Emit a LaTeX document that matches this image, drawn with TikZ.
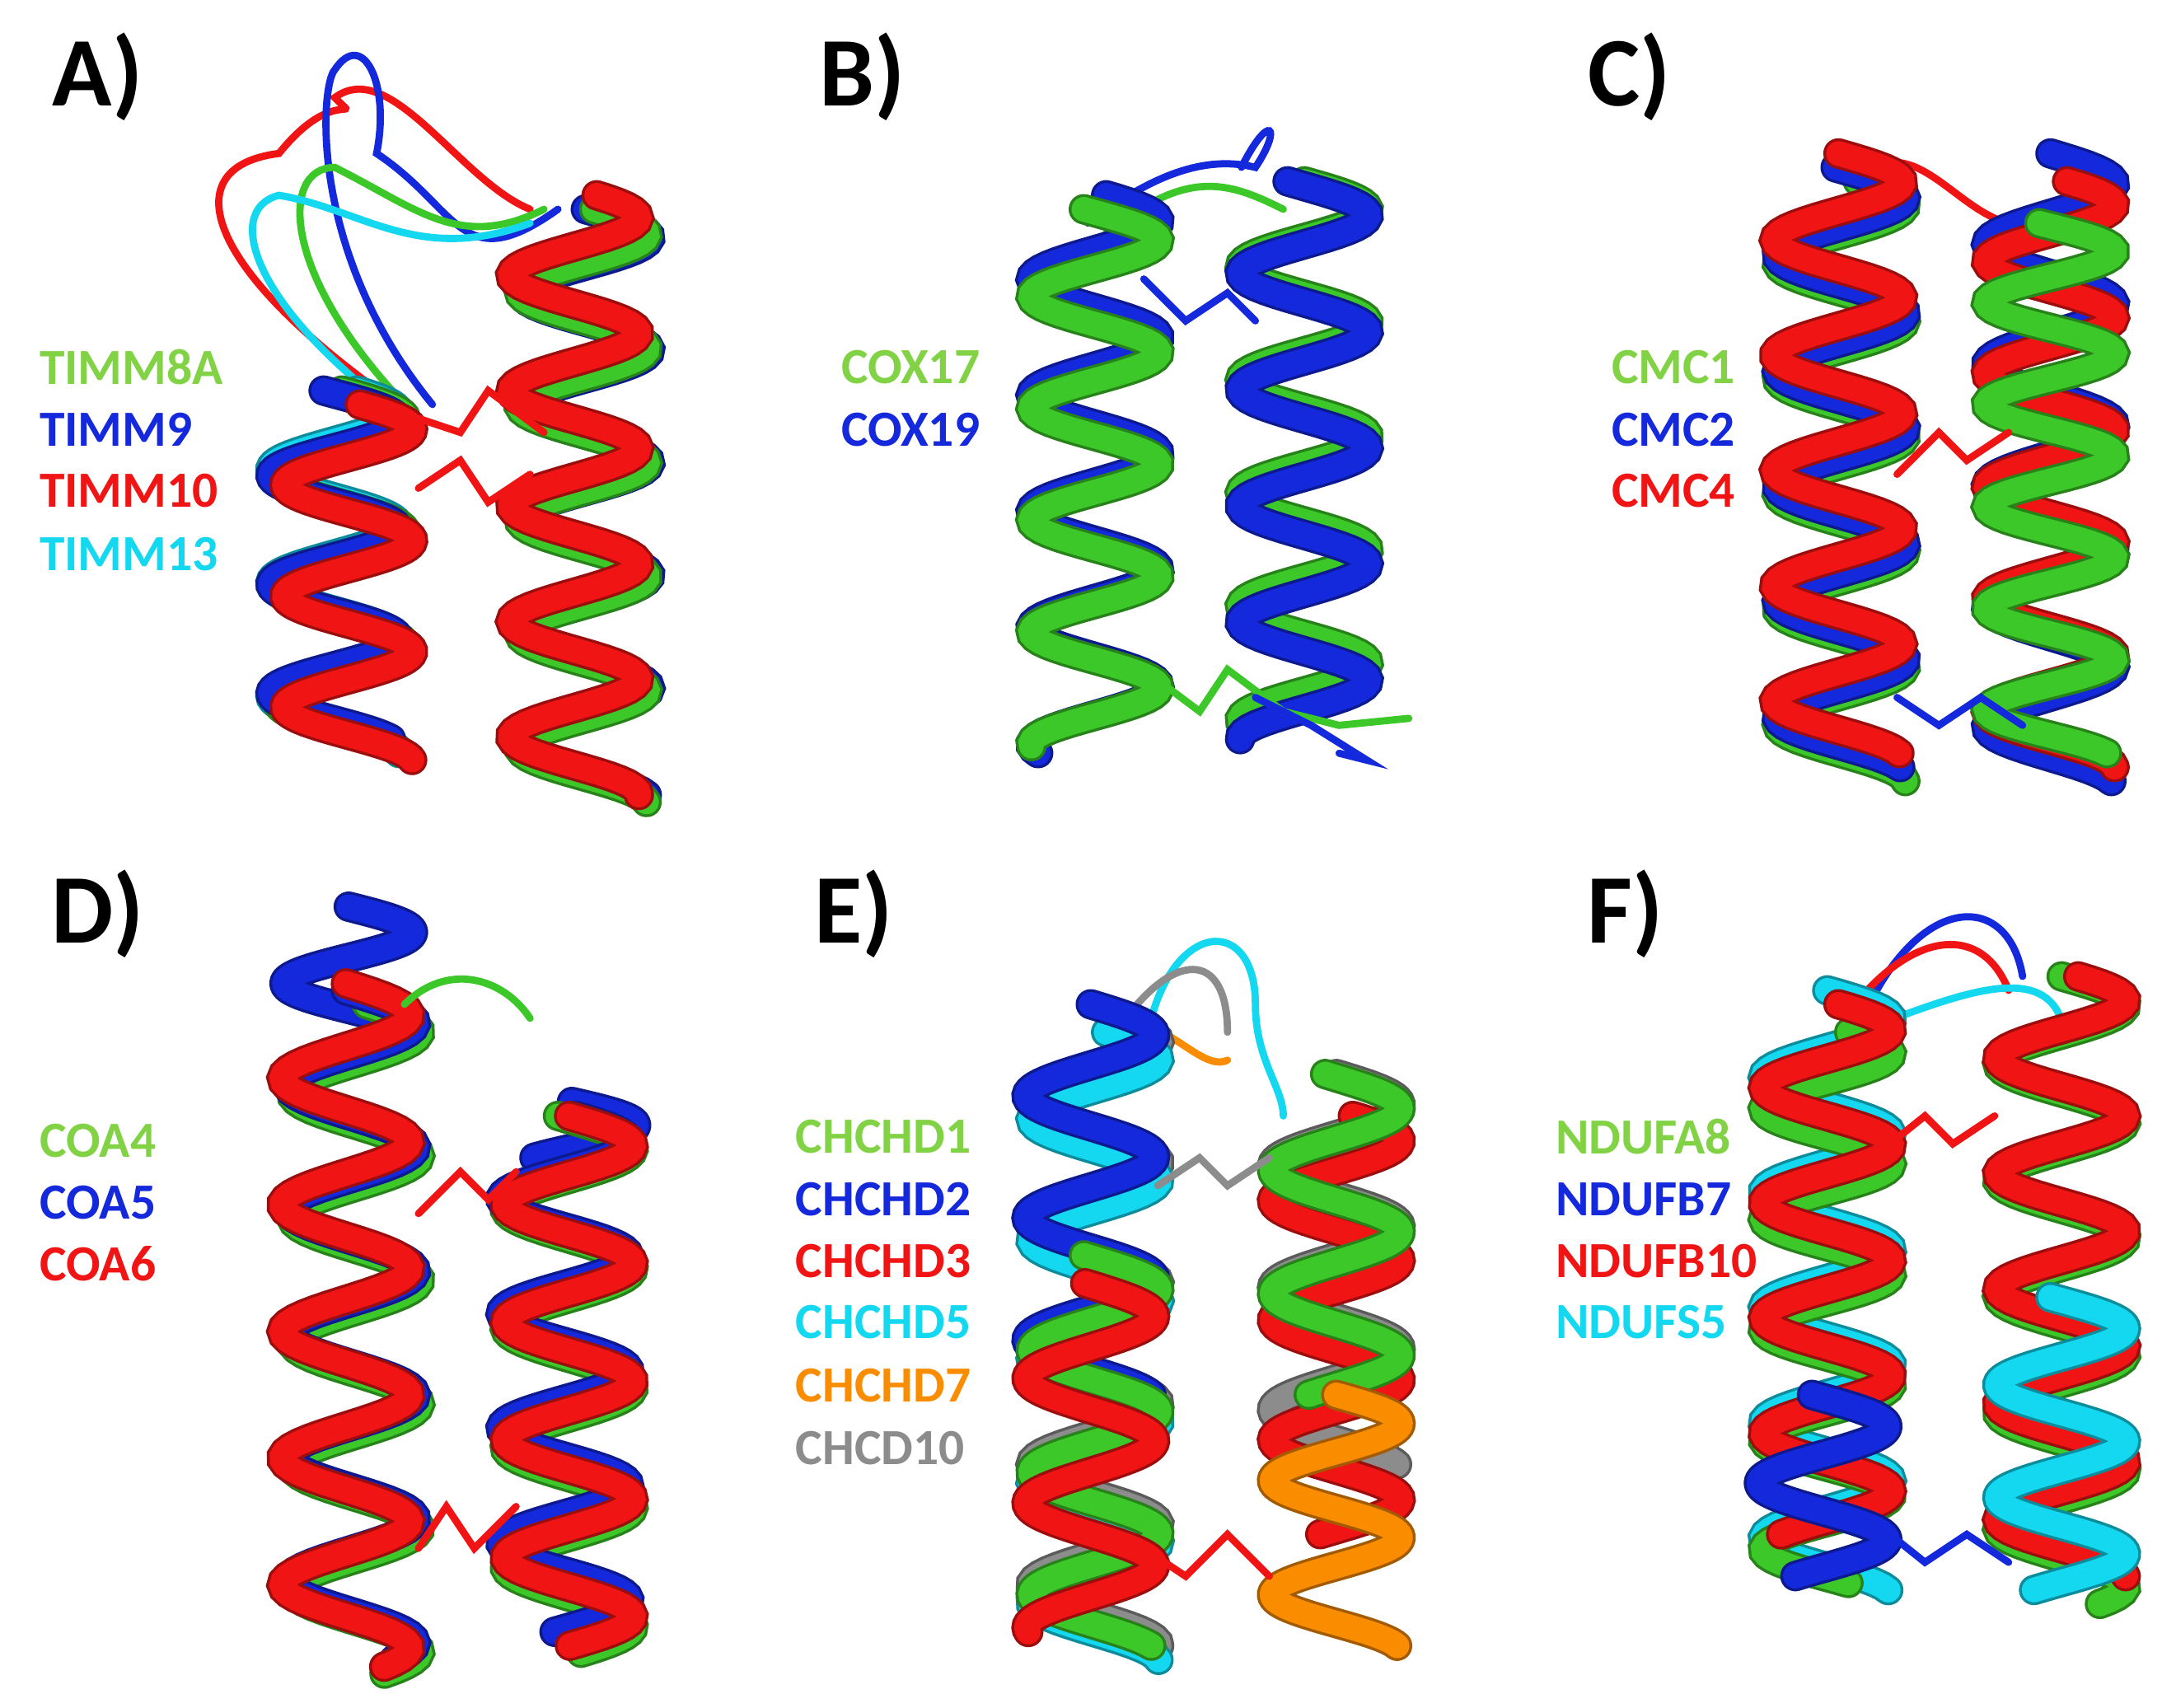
\documentclass[tikz,border=0pt]{standalone}
\usepackage{fontspec}
\setmainfont{Carlito}
\definecolor{cg}{RGB}{60,200,40}
\definecolor{lg}{RGB}{130,210,70}
\definecolor{cb}{RGB}{20,40,220}
\definecolor{cr}{RGB}{240,20,20}
\definecolor{cc}{RGB}{20,215,240}
\definecolor{co}{RGB}{250,140,0}
\definecolor{cy}{RGB}{140,140,140}
\newcommand\hx[6]{%
\draw[#1!65!black, line width=10.5pt, line cap=round] plot[domain=0:#5, samples=160, variable=\t] ({#2+46*sin(360*\t+#6)}, {#3+(#4-#3)*\t/#5});
\draw[#1, line width=8.5pt, line cap=round] plot[domain=0:#5, samples=160, variable=\t] ({#2+46*sin(360*\t+#6)}, {#3+(#4-#3)*\t/#5});}
\tikzset{pl/.style={font=\bfseries\fontsize{34}{38}\selectfont, anchor=center, inner sep=0pt},
 nm/.style={font=\bfseries\fontsize{17.5}{20}\selectfont, anchor=west, inner sep=0pt},
 lp/.style={line width=2.5pt, line cap=round}}
\begin{document}
\begin{tikzpicture}[x=0.01693cm,y=-0.01693cm]
\useasboundingbox (0,0) rectangle (1560,1224);
\fill[white] (0,0) rectangle (1560,1224);
% Panel A
\draw[lp,cr] (300,300) .. controls (150,200) and (120,120) .. (200,110) .. controls (240,60) and (260,90) .. (240,70) .. controls (280,40) and (330,130) .. (380,150);
\draw[lp,cb] (310,290) .. controls (220,180) and (230,60) .. (240,50) .. controls (260,20) and (280,60) .. (270,110) .. controls (330,150) and (330,200) .. (400,150);
\draw[lp,cg] (300,300) .. controls (200,200) and (200,120) .. (240,120) .. controls (300,150) and (330,180) .. (390,150);
\draw[lp,cc] (290,300) .. controls (180,220) and (160,150) .. (200,140) .. controls (260,150) and (300,190) .. (380,160);
\hx{cc}{240}{280}{540}{3.2}{20}
\hx{cg}{245}{280}{540}{3.2}{0}
\hx{cb}{240}{280}{530}{3.2}{-10}
\hx{cr}{250}{290}{545}{3.2}{10}
\hx{cb}{420}{150}{570}{5.2}{0}
\hx{cg}{418}{150}{575}{5.2}{10}
\hx{cr}{412}{140}{570}{5.2}{20}
\draw[lp,cr] (300,350) -- (330,330) -- (350,360) -- (380,340);
\draw[lp,cr] (300,300) -- (330,310) -- (350,280) -- (390,310);
% Panel B
\draw[lp,cb] (780,160) .. controls (820,130) and (860,110) .. (900,120) .. controls (920,90) and (910,80) .. (890,120);
\draw[lp,cg] (790,170) .. controls (850,120) and (880,130) .. (920,150);
\hx{cb}{785}{140}{540}{4.8}{10}
\hx{cg}{785}{150}{535}{4.8}{-10}
\hx{cg}{935}{130}{520}{4.8}{0}
\hx{cb}{935}{130}{530}{4.8}{-15}
\draw[lp,cb] (820,200) -- (850,230) -- (880,210) -- (900,230);
\draw[lp,cg] (820,480) -- (860,510) -- (880,480) -- (920,510) -- (960,520) -- (1010,515);
\draw[lp,cb] (900,500) -- (940,520) -- (980,545) -- (960,540);
% Panel C
\draw[lp,cr] (1330,130) .. controls (1370,90) and (1400,150) .. (1440,160);
\hx{cg}{1320}{130}{560}{5.2}{15}
\hx{cb}{1320}{120}{550}{5.2}{-5}
\hx{cr}{1318}{110}{540}{5.2}{0}
\hx{cb}{1470}{110}{560}{5.2}{0}
\hx{cr}{1470}{130}{550}{5.2}{15}
\hx{cg}{1470}{160}{540}{5.2}{-10}
\draw[lp,cr] (1360,340) -- (1390,310) -- (1410,330) -- (1440,310);
\draw[lp,cb] (1360,500) -- (1390,520) -- (1420,500) -- (1450,520);
% Panel D
\hx{cb}{250}{650}{760}{1.5}{0}
\hx{cb}{410}{790}{830}{0.6}{0}
\hx{cg}{255}{720}{1200}{5.4}{10}
\hx{cb}{252}{710}{1190}{5.4}{-5}
\hx{cr}{248}{705}{1195}{5.4}{0}
\hx{cg}{408}{800}{1185}{4.5}{-10}
\hx{cb}{405}{800}{1170}{4.5}{10}
\hx{cr}{408}{800}{1180}{4.5}{0}
\draw[lp,cr] (300,870) -- (330,840) -- (350,860) -- (370,840);
\draw[lp,cg] (290,720) .. controls (320,690) and (360,700) .. (380,730);
\draw[lp,cr] (300,1110) -- (320,1080) -- (340,1110) -- (370,1080);
% Panel E
\draw[lp,cc] (820,760) .. controls (830,660) and (900,650) .. (900,720) .. controls (900,760) and (920,780) .. (920,800);
\draw[lp,cy] (800,740) .. controls (840,680) and (880,680) .. (880,740);
\draw[lp,co] (800,740) .. controls (830,720) and (860,770) .. (880,760);
\hx{cy}{785}{730}{1180}{5.2}{20}
\hx{cc}{785}{740}{1190}{5.2}{10}
\hx{cb}{782}{720}{1000}{3.2}{0}
\hx{cg}{785}{900}{1180}{3.2}{-10}
\hx{cr}{782}{920}{1170}{2.8}{-5}
\hx{cy}{958}{770}{1050}{3.2}{0}
\hx{cr}{958}{800}{1100}{3.5}{15}
\hx{cg}{958}{770}{1000}{2.6}{-10}
\hx{co}{958}{1000}{1180}{2.2}{0}
\draw[lp,cy] (830,850) -- (860,830) -- (880,850) -- (910,830);
\draw[lp,cr] (820,1110) -- (850,1130) -- (880,1100) -- (910,1130);
% Panel F
\draw[lp,cb] (1340,720) .. controls (1380,640) and (1440,640) .. (1450,700);
\draw[lp,cr] (1330,720) .. controls (1370,670) and (1420,660) .. (1440,710);
\draw[lp,cc] (1330,740) .. controls (1390,720) and (1470,680) .. (1480,740);
\hx{cc}{1310}{710}{1140}{5.2}{0}
\hx{cg}{1310}{740}{1135}{5.0}{20}
\hx{cr}{1310}{720}{1100}{4.6}{10}
\hx{cb}{1307}{1000}{1130}{1.6}{-10}
\hx{cg}{1478}{700}{1150}{5.4}{0}
\hx{cr}{1478}{700}{1130}{5.2}{15}
\hx{cc}{1478}{930}{1140}{2.6}{-10}
\draw[lp,cr] (1355,820) -- (1380,800) -- (1400,820) -- (1430,800);
\draw[lp,cb] (1355,1100) -- (1380,1120) -- (1410,1100) -- (1440,1120);
% panel labels
\node[pl] (la) at (70,55) {A)};
\node[pl] (lb) at (618,55) {B)};
\node[pl] (lc) at (1168,55) {C)};
\node[pl] (ld) at (70,655) {D)};
\node[pl] (le) at (612,655) {E)};
\node[pl] (lf) at (1165,655) {F)};
% names
\node[nm,lg] (a1) at (28,263) {TIMM8A};
\node[nm,cb] (a2) at (28,308) {TIMM9};
\node[nm,cr] (a3) at (28,352) {TIMM10};
\node[nm,cc] (a4) at (28,397) {TIMM13};
\node[nm,lg] (b1) at (603,263) {COX17};
\node[nm,cb] (b2) at (603,308) {COX19};
\node[nm,lg] (c1) at (1155,263) {CMC1};
\node[nm,cb] (c2) at (1155,308) {CMC2};
\node[nm,cr] (c3) at (1155,352) {CMC4};
\node[nm,lg] (d1) at (28,818) {COA4};
\node[nm,cb] (d2) at (28,862) {COA5};
\node[nm,cr] (d3) at (28,906) {COA6};
\node[nm,lg] (e1) at (570,815) {CHCHD1};
\node[nm,cb] (e2) at (570,860) {CHCHD2};
\node[nm,cr] (e3) at (570,904) {CHCHD3};
\node[nm,cc] (e4) at (570,948) {CHCHD5};
\node[nm,co] (e5) at (570,993) {CHCHD7};
\node[nm,cy] (e6) at (570,1038) {CHCD10};
\node[nm,lg] (f1) at (1115,815) {NDUFA8};
\node[nm,cb] (f2) at (1115,860) {NDUFB7};
\node[nm,cr] (f3) at (1115,904) {NDUFB10};
\node[nm,cc] (f4) at (1115,948) {NDUFS5};
\end{tikzpicture}
\end{document}
